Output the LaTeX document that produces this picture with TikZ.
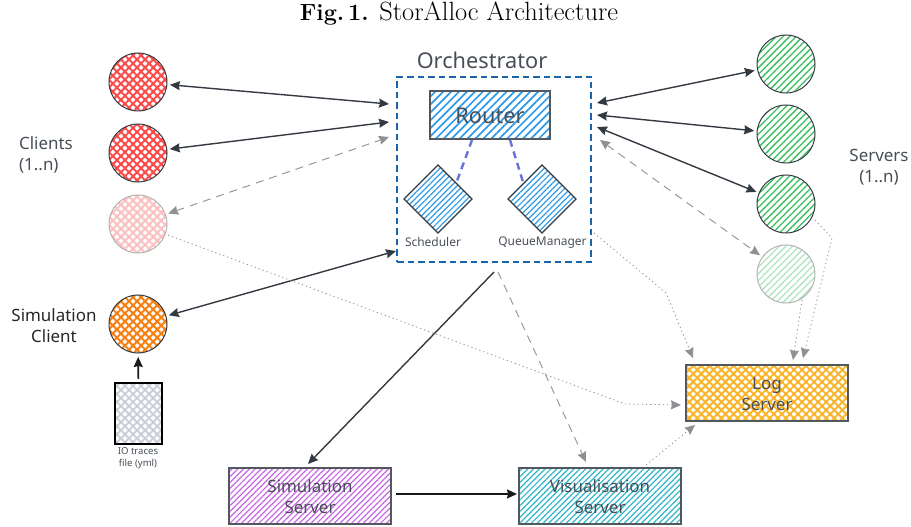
\documentclass[tikz,border=0pt]{standalone}
\usepackage{fontspec}
\newfontfamily\diagfont{Noto Sans}
\usetikzlibrary{arrows.meta,patterns.meta,shapes.geometric}
\definecolor{ink}{HTML}{343A42}
\definecolor{txt}{HTML}{484E57}
\definecolor{ghost}{HTML}{8E9094}
\definecolor{orchblue}{HTML}{1A64AE}
\definecolor{hblue}{HTML}{2F9BE8}
\definecolor{hred}{HTML}{FA4A4A}
\definecolor{hgreen}{HTML}{37BE5C}
\definecolor{horange}{HTML}{F77F10}
\definecolor{hyellow}{HTML}{F9B52B}
\definecolor{hpurple}{HTML}{C766E4}
\definecolor{hteal}{HTML}{2FB5C8}
\definecolor{hgrey}{HTML}{CBD0D8}
\definecolor{linkblue}{HTML}{6672D8}
\tikzset{
  lbl/.style 2 args={font=\diagfont\fontsize{#1}{#2}\selectfont,text=txt,align=center,inner sep=0pt},
  hatchlines/.style={pattern={Lines[angle=45,distance=4.7bp,line width=1.3bp]},pattern color=#1},
  hatchfine/.style={pattern={Lines[angle=45,distance=4.1bp,line width=1.2bp]},pattern color=#1},
  hatchwide/.style={pattern={Lines[angle=45,distance=5.6bp,line width=1.7bp]},pattern color=#1},
  hatchcross/.style={pattern={Hatch[angle=45,distance=5.7bp,line width=2bp]},pattern color=#1},
  ball/.style={circle,draw=ink,line width=1bp,minimum size=58bp,inner sep=0pt,outer sep=3bp},
  paleball/.style={ball,draw=black!30},
  box/.style={rectangle,draw=ink!85,line width=1.4bp,inner sep=0pt,outer sep=0pt},
  gem/.style={diamond,draw=ink,line width=1.1bp,minimum width=68bp,minimum height=68bp,inner sep=0pt,outer sep=0pt,hatchfine=hblue},
  solidlink/.style={draw=ink,line width=1.4bp,{Stealth[length=10bp,width=9bp,inset=1bp]}-{Stealth[length=10bp,width=9bp,inset=1bp]}},
  ghostlink/.style={draw=black!40,line width=1bp,dash pattern=on 8bp off 6bp,{Stealth[length=10bp,width=9bp,inset=1bp,color=ghost]}-{Stealth[length=10bp,width=9bp,inset=1bp,color=ghost]}},
  oneghost/.style={draw=black!40,line width=1bp,dash pattern=on 8bp off 6bp,-{Stealth[length=10bp,width=9bp,inset=1bp,color=ghost]}},
  dotlink/.style={draw=black!45,line width=.8bp,dash pattern=on 1.2bp off 3bp,-{Stealth[length=10bp,width=9bp,inset=1bp,color=ghost]}},
  onesolid/.style={draw=ink,line width=1.4bp,-{Stealth[length=10bp,width=9bp,inset=1bp]}},
  blackone/.style={draw=black!90,line width=1.6bp,-{Stealth[length=10bp,width=9bp,inset=1bp]}},
  bluedash/.style={draw=linkblue,line width=2.4bp,dash pattern=on 7bp off 5bp},
}
\begin{document}
\begin{tikzpicture}[x=1bp,y=-1bp]
\useasboundingbox (0,0) rectangle (911,527);
\node[font=\fontsize{26.5}{28}\selectfont,inner sep=0pt] (title) at (459,14) {{\fontsize{23.5}{28}\selectfont\textbf{Fig.\,1.}} StorAlloc Architecture};

% clients
\node[ball,hatchcross=hred] (c1) at (138,82) {};
\node[ball,hatchcross=hred] (c2) at (138,153) {};
\node[paleball,hatchcross=hred!35] (c3) at (138,224) {};
\node[ball,hatchcross=horange] (sc) at (138,324) {};
\node[box,line width=1.3bp,draw=black,hatchcross=hgrey,minimum width=47bp,minimum height=61bp] (file) at (138.5,413.5) {};
\node[lbl={9.6}{12}] (filelbl) at (138,458.5) {IO traces\\file (yml)};
\node[lbl={17}{21},align=left] (clbl) at (46,154.5) {Clients\\(1..n)};
\node[lbl={17}{21},text=black!85] (sclbl) at (54,326) {Simulation\\Client};

% servers
\node[ball,hatchlines=hgreen] (s1) at (786,64) {};
\node[ball,hatchlines=hgreen] (s2) at (786,134) {};
\node[ball,hatchlines=hgreen] (s3) at (786,204) {};
\node[paleball,hatchlines=hgreen!40] (s4) at (786,274) {};
\node[lbl={17}{21}] (slbl) at (879,167) {Servers\\(1..n)};

% orchestrator
\node[rectangle,draw=orchblue,line width=2.2bp,dash pattern=on 6.5bp off 4bp,minimum width=194bp,minimum height=185bp,inner sep=0pt,outer sep=0pt] (orch) at (494,169.5) {};
\node[lbl={21.8}{24}] (orchlbl) at (482,60) {Orchestrator};
\node[box,hatchwide=hblue,minimum width=120bp,minimum height=48bp] (router) at (490,115) {};
\node[lbl={21.8}{24}] (routerlbl) at (490,115.5) {Router};
\node[gem] (sched) at (438,199) {};
\node[gem] (qm) at (542,199) {};
\node[lbl={12}{14}] (schedlbl) at (433,242.5) {Scheduler};
\node[lbl={12}{14}] (qmlbl) at (542.5,242.5) {QueueManager};

% log, sim, vis
\node[box,hatchcross=hyellow,minimum width=162bp,minimum height=56bp] (log) at (767,393) {};
\node[lbl={17}{21}] (loglbl) at (767,394) {Log\\Server};
\node[box,hatchfine=hpurple,minimum width=162bp,minimum height=56bp] (sim) at (310,496) {};
\node[lbl={17}{21}] (simlbl) at (310,497) {Simulation\\Server};
\node[box,hatchfine=hteal,minimum width=162bp,minimum height=56bp] (vis) at (600,496) {};
\node[lbl={17}{21}] (vislbl) at (600,497) {Visualisation\\Server};

% free ends and bends
\coordinate (oc1) at (389,104);
\coordinate (oc2) at (389,122);
\coordinate (oc3) at (389,137);
\coordinate (osc) at (396,251);
\coordinate (os1) at (597,103);
\coordinate (os2) at (597,115);
\coordinate (os3) at (597,127);
\coordinate (os4) at (600,140);
\coordinate (ob1) at (494,272);
\coordinate (ob2) at (498,272);
\coordinate (simin) at (308,464);
\coordinate (visup) at (586,462);
\coordinate (od)  at (594,233);
\coordinate (rs) at (472,140);
\coordinate (rq) at (510,140);
\coordinate (ss) at (457,181);
\coordinate (qq) at (523,182);
\coordinate (simout) at (396,494);
\coordinate (visin) at (517,494);
\coordinate (ba) at (625,404);
\coordinate (bb) at (681,405);
\coordinate (bc) at (666,293);
\coordinate (bd) at (693,358);
\coordinate (be) at (815,220);
\coordinate (bf) at (832,238);
\coordinate (bg) at (803,358);
\coordinate (bh) at (802,300);
\coordinate (bi) at (793,360);
\coordinate (bj) at (646,465);
\coordinate (bk) at (695,425);

% connectors
\draw[solidlink] (c1) -- (oc1);
\draw[solidlink] (c2) -- (oc2);
\draw[ghostlink] (c3) -- (oc3);
\draw[solidlink] (sc) -- (osc);
\draw[solidlink] (os1) -- (s1);
\draw[solidlink] (os2) -- (s2);
\draw[solidlink] (os3) -- (s3);
\draw[ghostlink] (os4) -- (s4);
\draw[bluedash] (rs) -- (ss);
\draw[bluedash] (rq) -- (qq);
\draw[onesolid] (ob1) -- (simin);
\draw[oneghost] (ob2) -- (visup);
\draw[blackone] (simout) -- (visin);
\draw[blackone,shorten >=1bp,shorten <=4bp] (file) -- (sc);
\draw[dotlink] (c3) -- (ba) -- (bb);
\draw[dotlink] (od) -- (bc) -- (bd);
\draw[dotlink] (be) -- (bf) -- (bg);
\draw[dotlink] (bh) -- (bi);
\draw[dotlink] (bj) -- (bk);
\end{tikzpicture}
\end{document}
